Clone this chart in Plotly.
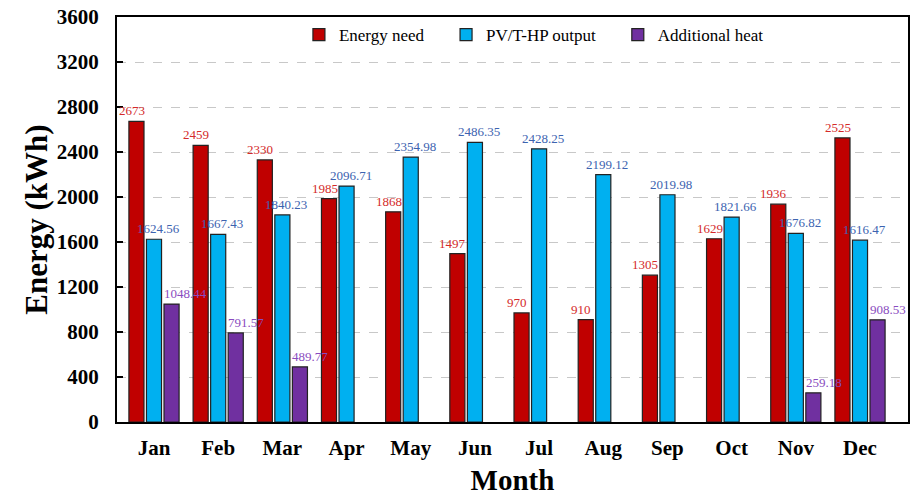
import plotly.graph_objects as go

months = ["Jan", "Feb", "Mar", "Apr", "May", "Jun", "Jul", "Aug", "Sep", "Oct", "Nov", "Dec"]
energy_need = [2673, 2459, 2330, 1985, 1868, 1497, 970, 910, 1305, 1629, 1936, 2525]
pvt_output = [1624.56, 1667.43, 1840.23, 2096.71, 2354.98, 2486.35, 2428.25, 2199.12,
              2019.98, 1821.66, 1676.82, 1616.47]
additional_heat = [1048.44, 791.57, 489.77, 0, 0, 0, 0, 0, 0, 0, 259.18, 908.53]

FONT = "Liberation Serif, Times New Roman, serif"
PAD = "\u00a0" * 4  # extra room between legend entries


def fmt(v):
    return f"{v:g}" if v == int(v) else f"{v:.2f}"


# name, values, bar colour, label colour, label x-shift (px), label anchor
series = [
    ("Energy need" + PAD, energy_need, "#C00000", "#D42A2A", -22, "center"),
    ("PV/T-HP output" + PAD, pvt_output, "#00B0F0", "#3C63B0", 4, "center"),
    ("Additional heat", additional_heat, "#7030A0", "#8A4CC0", 8, "left"),
]

fig = go.Figure()
for name, vals, color, txtcolor, shift, anchor in series:
    fig.add_trace(go.Bar(
        x=months, y=vals, name=name,
        marker=dict(color=color,
                    line=dict(color="#222222", width=[0 if v == 0 else 1.2 for v in vals])),
    ))
    for m, v in zip(months, vals):
        if v == 0:
            continue
        fig.add_annotation(x=m, y=v, text=fmt(v), showarrow=False,
                           xanchor=anchor, yanchor="bottom", xshift=shift, yshift=1,
                           font=dict(family=FONT, size=13, color=txtcolor))

fig.update_layout(
    width=924, height=497,
    margin=dict(l=117, r=16, t=17, b=75, autoexpand=False),
    paper_bgcolor="white", plot_bgcolor="white",
    barmode="group", bargap=0.18, bargroupgap=0.14,
    font=dict(family=FONT, color="black"),
    legend=dict(orientation="h", x=0.23, xanchor="left", y=1.0, yanchor="top",
                font=dict(family=FONT, size=17, color="black"),
                itemwidth=30, bgcolor="rgba(0,0,0,0)"),
)
fig.update_yaxes(
    range=[0, 3600], dtick=400, tickformat="d", automargin=False,
    title=dict(text="<b>Energy (kWh)</b>", font=dict(family=FONT, size=31), standoff=0),
    tickfont=dict(family=FONT, size=21, color="black"),
    tickprefix="<b>", ticksuffix="</b>", ticklabelstandoff=12,
    showgrid=True, gridcolor="#C8C8C8", griddash="dash", gridwidth=1,
    showline=True, linecolor="black", linewidth=2, mirror=True,
    ticks="inside", ticklen=6, tickcolor="black", tickwidth=1.5,
    zeroline=False,
)
fig.update_xaxes(
    automargin=False,
    title=dict(text="<b>Month</b>", font=dict(family=FONT, size=29), standoff=10),
    tickfont=dict(family=FONT, size=21, color="black"),
    tickprefix="<b>", ticksuffix="</b>", ticklabelstandoff=6,
    showline=True, linecolor="black", linewidth=2, mirror=True,
    ticks="",
)

fig.write_html("out.html", config={"displayModeBar": False},
               post_script="document.body.style.margin='0';document.body.style.overflow='hidden';")
